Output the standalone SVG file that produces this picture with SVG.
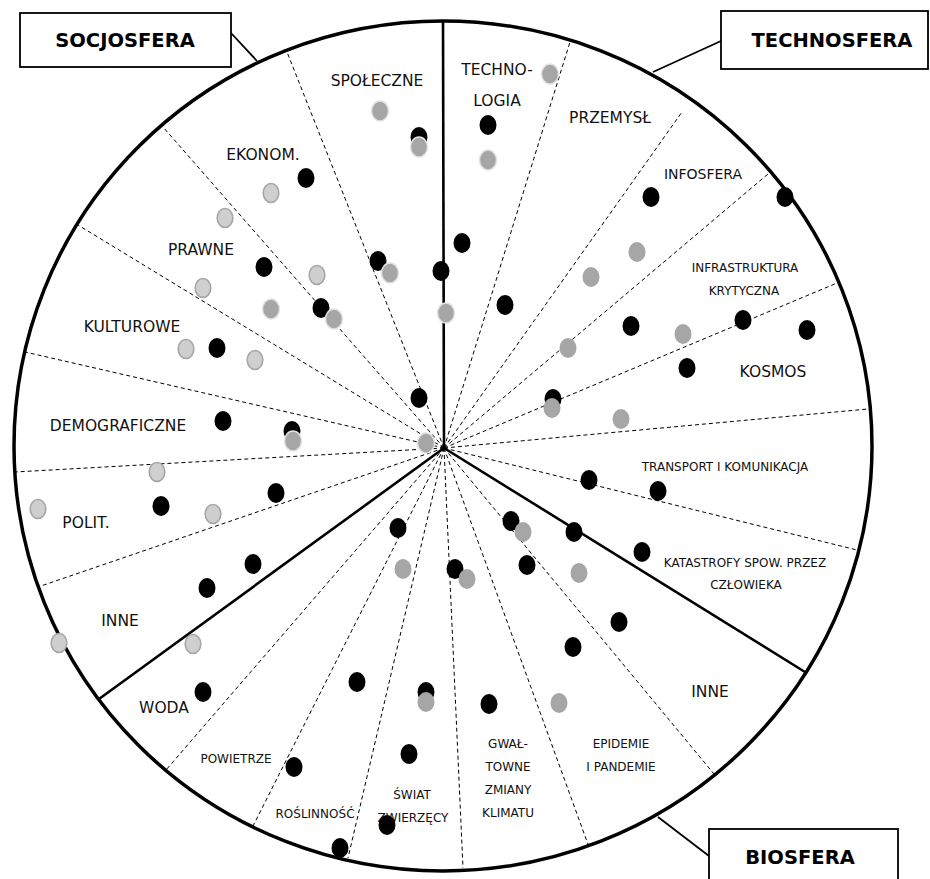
<svg xmlns="http://www.w3.org/2000/svg" width="930" height="879" viewBox="0 0 930 879">
<style>
.bg{fill:#fff}
.rim{fill:none;stroke:#000;stroke-width:3.5}
.solid{stroke:#000;stroke-width:2.6;fill:none}
.dash{stroke:#000;stroke-width:1;stroke-dasharray:4 3;fill:none}
.lead{stroke:#000;stroke-width:1.8;fill:none}
.box{fill:#fff;stroke:#000;stroke-width:1.8}
.t{font-family:"DejaVu Sans",Verdana,sans-serif;font-size:15.5px;fill:#111;text-anchor:middle}
.s{font-size:12px}
.m{font-size:14px}
.h{font-family:"DejaVu Sans",Verdana,sans-serif;font-size:19.5px;font-weight:bold;fill:#000;text-anchor:middle}
.b{fill:#000}
.g{fill:#a6a6a6}
.gh{fill:#a6a6a6;stroke:#e2e2e2;stroke-width:1.5}
.l{fill:#cfcfcf;stroke:#a6a6a6;stroke-width:1.6}
</style>
<rect class="bg" x="0" y="0" width="930" height="879"/>
<g id="connectors">
<ellipse class="rim" cx="443" cy="446" rx="429" ry="425"/>
<line class="dash" x1="444" y1="448" x2="570" y2="42"/>
<line class="dash" x1="444" y1="448" x2="682" y2="112"/>
<line class="dash" x1="444" y1="448" x2="768" y2="174"/>
<line class="dash" x1="444" y1="448" x2="837" y2="283"/>
<line class="dash" x1="444" y1="448" x2="868" y2="409"/>
<line class="dash" x1="444" y1="448" x2="857" y2="550"/>
<line class="dash" x1="444" y1="448" x2="714" y2="774"/>
<line class="dash" x1="444" y1="448" x2="589" y2="847"/>
<line class="dash" x1="444" y1="448" x2="463" y2="868"/>
<line class="dash" x1="444" y1="448" x2="348" y2="858"/>
<line class="dash" x1="444" y1="448" x2="252" y2="828"/>
<line class="dash" x1="444" y1="448" x2="166" y2="770"/>
<line class="dash" x1="444" y1="448" x2="38" y2="587"/>
<line class="dash" x1="444" y1="448" x2="15" y2="472"/>
<line class="dash" x1="444" y1="448" x2="25" y2="352"/>
<line class="dash" x1="444" y1="448" x2="78" y2="225"/>
<line class="dash" x1="444" y1="448" x2="163" y2="127"/>
<line class="dash" x1="444" y1="448" x2="287" y2="52"/>
<line class="solid" x1="444" y1="448" x2="443" y2="21"/>
<line class="solid" x1="444" y1="448" x2="99" y2="699"/>
<line class="solid" x1="444" y1="448" x2="805" y2="672"/>
<line class="lead" x1="231" y1="33" x2="257" y2="61"/>
<line class="lead" x1="721" y1="41" x2="653" y2="72"/>
<line class="lead" x1="658" y1="817" x2="709" y2="856"/>
</g>
<g id="socjosfera">
<rect class="box" x="20" y="13" width="211" height="54"/>
<text class="h" x="125" y="47">SOCJOSFERA</text>
</g>
<g id="technosfera">
<rect class="box" x="721" y="11" width="207" height="58"/>
<text class="h" x="832" y="47">TECHNOSFERA</text>
</g>
<g id="biosfera">
<rect class="box" x="709" y="829" width="189" height="62"/>
<text class="h" x="800" y="864">BIOSFERA</text>
</g>
<g id="labels">
<text class="t" x="377" y="86">SPOŁECZNE</text>
<text class="t" x="497" y="75">TECHNO-</text>
<text class="t" x="497" y="106">LOGIA</text>
<text class="t" x="610" y="123">PRZEMYSŁ</text>
<text class="t" x="263" y="160">EKONOM.</text>
<text class="t m" x="703" y="179">INFOSFERA</text>
<text class="t" x="201" y="255">PRAWNE</text>
<text class="t s" x="745" y="272">INFRASTRUKTURA</text>
<text class="t s" x="744" y="295">KRYTYCZNA</text>
<text class="t" x="132" y="332">KULTUROWE</text>
<text class="t" x="773" y="377">KOSMOS</text>
<text class="t" x="118" y="431">DEMOGRAFICZNE</text>
<text class="t s" x="725" y="471">TRANSPORT I KOMUNIKACJA</text>
<text class="t" x="86" y="528">POLIT.</text>
<text class="t s" x="745" y="567">KATASTROFY SPOW. PRZEZ</text>
<text class="t s" x="746" y="589">CZŁOWIEKA</text>
<text class="t" x="120" y="626">INNE</text>
<text class="t" x="710" y="697">INNE</text>
<text class="t" x="164" y="713">WODA</text>
<text class="t s" x="621" y="748">EPIDEMIE</text>
<text class="t s" x="621" y="771">I PANDEMIE</text>
<text class="t s" x="508" y="748">GWAŁ-</text>
<text class="t s" x="508" y="771">TOWNE</text>
<text class="t s" x="508" y="794">ZMIANY</text>
<text class="t s" x="508" y="817">KLIMATU</text>
<text class="t s" x="236" y="763">POWIETRZE</text>
<text class="t s" x="412" y="799">ŚWIAT</text>
<text class="t s" x="413" y="822">ZWIERZĘCY</text>
<text class="t s" x="315" y="818">ROŚLINNOŚĆ</text>
</g>
<g id="points">
<ellipse class="gh" cx="380" cy="111" rx="8.5" ry="10"/>
<ellipse class="b" cx="419" cy="137" rx="8.5" ry="10"/>
<ellipse class="gh" cx="419" cy="147" rx="8.5" ry="10"/>
<ellipse class="b" cx="488" cy="125" rx="8.5" ry="10"/>
<ellipse class="gh" cx="488" cy="160" rx="8.5" ry="10"/>
<ellipse class="gh" cx="550" cy="74" rx="8.5" ry="10"/>
<ellipse class="b" cx="306" cy="178" rx="8.5" ry="10"/>
<ellipse class="l" cx="271" cy="193" rx="7.8" ry="9.5"/>
<ellipse class="l" cx="225" cy="218" rx="7.8" ry="9.5"/>
<ellipse class="b" cx="264" cy="267" rx="8.5" ry="10"/>
<ellipse class="l" cx="317" cy="275" rx="7.8" ry="9.5"/>
<ellipse class="l" cx="203" cy="288" rx="7.8" ry="9.5"/>
<ellipse class="b" cx="378" cy="261" rx="8.5" ry="10"/>
<ellipse class="gh" cx="390" cy="273" rx="8.5" ry="10"/>
<ellipse class="b" cx="441" cy="271" rx="8.5" ry="10"/>
<ellipse class="b" cx="462" cy="243" rx="8.5" ry="10"/>
<ellipse class="gh" cx="271" cy="309" rx="8.5" ry="10"/>
<ellipse class="b" cx="321" cy="308" rx="8.5" ry="10"/>
<ellipse class="gh" cx="334" cy="319" rx="8.5" ry="10"/>
<ellipse class="gh" cx="446" cy="313" rx="8.5" ry="10"/>
<ellipse class="b" cx="505" cy="305" rx="8.5" ry="10"/>
<ellipse class="b" cx="651" cy="197" rx="8.5" ry="10"/>
<ellipse class="b" cx="785" cy="197" rx="8.5" ry="10"/>
<ellipse class="g" cx="637" cy="252" rx="8.5" ry="10"/>
<ellipse class="g" cx="591" cy="277" rx="8.5" ry="10"/>
<ellipse class="b" cx="631" cy="326" rx="8.5" ry="10"/>
<ellipse class="g" cx="683" cy="334" rx="8.5" ry="10"/>
<ellipse class="b" cx="743" cy="320" rx="8.5" ry="10"/>
<ellipse class="b" cx="807" cy="330" rx="8.5" ry="10"/>
<ellipse class="g" cx="568" cy="348" rx="8.5" ry="10"/>
<ellipse class="b" cx="687" cy="368" rx="8.5" ry="10"/>
<ellipse class="b" cx="553" cy="399" rx="8.5" ry="10"/>
<ellipse class="g" cx="552" cy="408" rx="8.5" ry="10"/>
<ellipse class="g" cx="621" cy="419" rx="8.5" ry="10"/>
<ellipse class="l" cx="186" cy="349" rx="7.8" ry="9.5"/>
<ellipse class="b" cx="217" cy="348" rx="8.5" ry="10"/>
<ellipse class="l" cx="255" cy="360" rx="7.8" ry="9.5"/>
<ellipse class="b" cx="419" cy="398" rx="8.5" ry="10"/>
<ellipse class="b" cx="223" cy="421" rx="8.5" ry="10"/>
<ellipse class="b" cx="292" cy="431" rx="8.5" ry="10"/>
<ellipse class="gh" cx="293" cy="441" rx="8.5" ry="10"/>
<ellipse class="gh" cx="426" cy="443" rx="8.5" ry="10"/>
<ellipse class="l" cx="157" cy="472" rx="7.8" ry="9.5"/>
<ellipse class="b" cx="276" cy="493" rx="8.5" ry="10"/>
<ellipse class="l" cx="38" cy="509" rx="7.8" ry="9.5"/>
<ellipse class="b" cx="161" cy="506" rx="8.5" ry="10"/>
<ellipse class="l" cx="213" cy="514" rx="7.8" ry="9.5"/>
<ellipse class="b" cx="589" cy="480" rx="8.5" ry="10"/>
<ellipse class="b" cx="658" cy="491" rx="8.5" ry="10"/>
<ellipse class="b" cx="398" cy="528" rx="8.5" ry="10"/>
<ellipse class="b" cx="511" cy="521" rx="8.5" ry="10"/>
<ellipse class="g" cx="523" cy="532" rx="8.5" ry="10"/>
<ellipse class="b" cx="574" cy="532" rx="8.5" ry="10"/>
<ellipse class="b" cx="642" cy="552" rx="8.5" ry="10"/>
<ellipse class="b" cx="527" cy="565" rx="8.5" ry="10"/>
<ellipse class="g" cx="579" cy="573" rx="8.5" ry="10"/>
<ellipse class="g" cx="403" cy="569" rx="8.5" ry="10"/>
<ellipse class="b" cx="455" cy="569" rx="8.5" ry="10"/>
<ellipse class="g" cx="467" cy="579" rx="8.5" ry="10"/>
<ellipse class="b" cx="253" cy="564" rx="8.5" ry="10"/>
<ellipse class="b" cx="207" cy="588" rx="8.5" ry="10"/>
<ellipse class="b" cx="619" cy="622" rx="8.5" ry="10"/>
<ellipse class="b" cx="573" cy="647" rx="8.5" ry="10"/>
<ellipse class="l" cx="59" cy="643" rx="7.8" ry="9.5"/>
<ellipse class="l" cx="193" cy="644" rx="7.8" ry="9.5"/>
<ellipse class="b" cx="203" cy="692" rx="8.5" ry="10"/>
<ellipse class="b" cx="357" cy="682" rx="8.5" ry="10"/>
<ellipse class="b" cx="426" cy="692" rx="8.5" ry="10"/>
<ellipse class="g" cx="426" cy="702" rx="8.5" ry="10"/>
<ellipse class="b" cx="489" cy="704" rx="8.5" ry="10"/>
<ellipse class="g" cx="559" cy="703" rx="8.5" ry="10"/>
<ellipse class="b" cx="409" cy="754" rx="8.5" ry="10"/>
<ellipse class="b" cx="294" cy="767" rx="8.5" ry="10"/>
<ellipse class="b" cx="387" cy="825" rx="8.5" ry="10"/>
<ellipse class="b" cx="340" cy="848" rx="8.5" ry="10"/>
</g>
</svg>
